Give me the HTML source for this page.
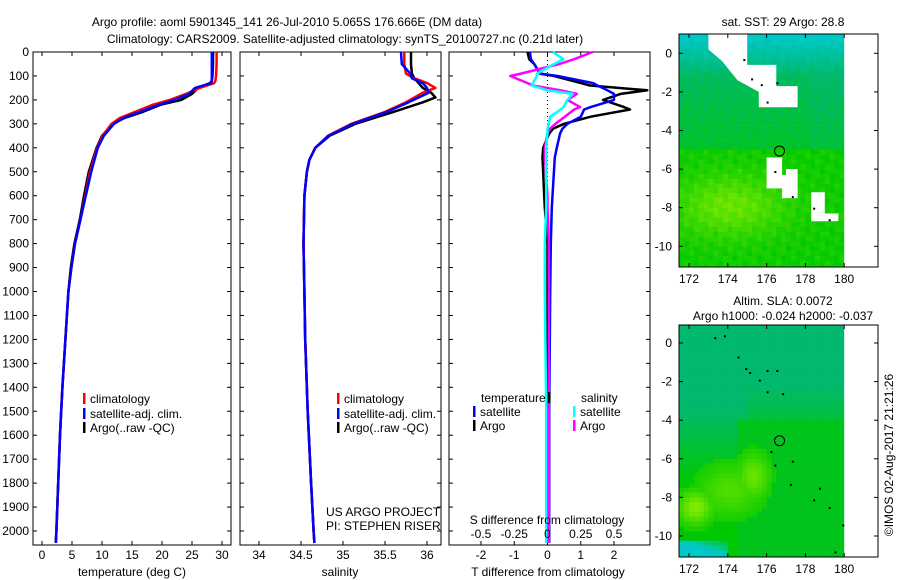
<!DOCTYPE html>
<html><head><meta charset="utf-8">
<style>
html,body{margin:0;padding:0;background:#fff;}
svg{display:block;font-family:"Liberation Sans",sans-serif;}
text{font-size:12px;fill:#000;}
</style></head>
<body>
<svg id="fig" width="900" height="580" viewBox="0 0 900 580" xmlns="http://www.w3.org/2000/svg">
<text x="287" y="26" text-anchor="middle">Argo profile: aoml 5901345_141 26-Jul-2010 5.065S 176.666E (DM data)</text>
<text x="345" y="43" text-anchor="middle">Climatology: CARS2009. Satellite-adjusted climatology: synTS_20100727.nc (0.21d later)</text>
<g id="p1"></g>
<g id="p2"></g>
<g id="p3"></g>
<g id="m1"></g>
<g id="m2"></g>
<text transform="translate(893,455) rotate(-90)" text-anchor="middle">©IMOS 02-Aug-2017 21:21:26</text>
</svg>
<script>
// ---------- data ----------
const tDepths = [0,50,100,120,130,150,175,200,220,250,275,300,350,400,500,600,700,800,900,1000,1200,1400,1600,1800,2000,2050];
const tClim   = [29.1,29.1,29.0,28.9,28.7,26.3,24.0,21.3,18.5,15.5,13.0,11.6,10.1,9.2,8.0,7.2,6.4,5.5,4.9,4.4,3.9,3.4,3.0,2.7,2.4,2.3];
const tSat    = [28.3,28.3,28.3,28.3,28.2,25.5,24.5,22.0,19.5,16.3,13.6,12.0,10.3,9.3,8.2,7.3,6.4,5.5,4.9,4.4,3.9,3.4,3.0,2.7,2.4,2.3];
const tArgo   = [28.5,28.5,28.4,28.3,28.0,26.0,25.0,23.2,19.8,16.8,13.8,11.8,10.0,9.1,7.8,7.0,6.3,5.4,4.8,4.4,3.9,3.4,3.0,2.7,2.4,2.3];
const sDepths = [0,50,90,110,130,150,170,190,210,250,300,350,400,450,500,600,800,1000,1200,1500,1800,2000,2050];
const sClim   = [35.73,35.73,35.75,35.85,36.0,36.1,35.95,35.85,35.75,35.5,35.1,34.82,34.67,34.6,34.57,34.54,34.53,34.54,34.55,34.58,34.62,34.65,34.66];
const sSat    = [35.69,35.70,35.80,35.82,35.95,36.0,36.02,35.9,35.78,35.52,35.12,34.83,34.67,34.6,34.57,34.54,34.53,34.54,34.55,34.58,34.62,34.65,34.66];
const sArgo   = [35.81,35.81,35.82,35.85,35.9,35.95,36.05,36.1,35.95,35.6,35.15,34.84,34.67,34.6,34.57,34.54,34.53,34.54,34.55,34.58,34.62,34.65,34.66];
const dDepths = [0,30,50,90,100,130,140,160,175,200,230,240,270,300,320,340,400,440,600,650,800,1000,1500,2050];
const dTSat   = [-0.53,-0.5,-0.4,-0.23,0.3,1.37,1.5,1.8,2.0,2.0,1.3,1.1,1.0,0.6,0.45,0.38,0.28,0.22,0.15,0.13,0.1,0.08,0.05,0.05];
const dTArgo  = [-0.6,-0.55,-0.4,-0.23,0.2,1.0,1.28,3.0,2.2,1.67,2.3,2.48,1.3,0.5,0.17,0.05,-0.13,-0.15,-0.1,-0.08,0,0,0,0];
const dSSat   = [0.04,0.12,0.05,-0.08,-0.08,-0.11,-0.12,0.0,0.19,0.15,0.12,0.1,0.02,0.01,0.0,0.0,-0.01,-0.01,-0.01,-0.01,-0.02,-0.02,-0.01,-0.01];
const dSArgo  = [0.34,0.2,0.09,-0.2,-0.28,-0.15,-0.11,0.1,0.22,0.15,0.245,0.2,0.13,0.06,0.02,0.0,-0.02,-0.02,0.0,0.0,0.01,0.01,0.01,0.01];
const depthTicks = [0,100,200,300,400,500,600,700,800,900,1000,1100,1200,1300,1400,1500,1600,1700,1800,1900,2000];
const tTicks = [0,5,10,15,20,25,30];
const sTicks = [34,34.5,35,35.5,36];
const dTTicks = [-2,-1,0,1,2];
const dSTicks = [-0.5,-0.25,0,0.25,0.5];
const dSTickLabels = ['-0.5','-0.25','0','0.25','0.5'];
const lonTicks = [172,174,176,178,180];
const latTicks = [0,-2,-4,-6,-8,-10];
const argoLon = 176.666, argoLat = -5.065;

const NS='http://www.w3.org/2000/svg';
function mk(parent,tag,attrs,txt){const e=document.createElementNS(NS,tag);for(const k in attrs)e.setAttribute(k,attrs[k]);if(txt!==undefined)e.textContent=txt;parent.appendChild(e);return e;}
const TOP=52, BOT=545;
const yD = d => TOP + d*0.2395;

function frame(g,x0,x1,labels){
  const r=mk(g,'rect',{x:x0,y:TOP,width:x1-x0,height:BOT-TOP,fill:'none',stroke:'#000','stroke-width':1});
  
  
  depthTicks.forEach(d=>{
    const y=yD(d);
    mk(g,'line',{x1:x0,x2:x0+4,y1:y,y2:y,stroke:'#000'});
    mk(g,'line',{x1:x1-4,x2:x1,y1:y,y2:y,stroke:'#000'});
    if(labels){const t=mk(g,'text',{x:x0-4,y:y+4,'text-anchor':'end'},String(d));
      
      }
  });
}
function xTicks(g,vals,labs,fx,y,top){
  vals.forEach((v,i)=>{const x=fx(v);
    mk(g,'line',{x1:x,x2:x,y1:BOT-4,y2:BOT,stroke:'#000'});
    if(top) mk(g,'line',{x1:x,x2:x,y1:TOP,y2:TOP+4,stroke:'#000'});
    const t=mk(g,'text',{x:x,y:y,'text-anchor':'middle'},labs[i]);
    
    });
}
function line(g,xs,ds,fx,color,name,w){
  const pts=xs.map((v,i)=>fx(v).toFixed(1)+','+yD(ds[i]).toFixed(1)).join(' ');
  const p=mk(g,'polyline',{points:pts,fill:'none',stroke:color,'stroke-width':w||2.5,'stroke-linejoin':'round'});
  
  
}
function legendEntry(g,x,y,color,label){
  mk(g,'rect',{x:x,y:y-10,width:2.5,height:11,fill:color});
  const t=mk(g,'text',{x:x+7,y:y},label);
  
  
}

// Panel 1: temperature
const p1=document.getElementById('p1');
const fT = t => 42 + t*6;
frame(p1,33,231,true);
xTicks(p1,tTicks,tTicks.map(String),fT,559,true);
mk(p1,'text',{x:132,y:576,'text-anchor':'middle'},'temperature (deg C)');
line(p1,tArgo,tDepths,fT,'#000','argo-temperature-line');
line(p1,tClim,tDepths,fT,'#f00','climatology-temperature-line');
line(p1,tSat,tDepths,fT,'#00f','satellite-temperature-line');
legendEntry(p1,83,403,'#f00','climatology');
legendEntry(p1,83,418,'#00f','satellite-adj. clim.');
legendEntry(p1,83,432,'#000','Argo(..raw -QC)');

// Panel 2: salinity
const p2=document.getElementById('p2');
const fS = s => 259 + (s-34)*84;
frame(p2,240,441,false);
xTicks(p2,sTicks,['34','34.5','35','35.5','36'],fS,559,true);
mk(p2,'text',{x:340,y:576,'text-anchor':'middle'},'salinity');
line(p2,sArgo,sDepths,fS,'#000','argo-salinity-line');
line(p2,sClim,sDepths,fS,'#f00','climatology-salinity-line');
line(p2,sSat,sDepths,fS,'#00f','satellite-salinity-line');
legendEntry(p2,337,403,'#f00','climatology');
legendEntry(p2,337,418,'#00f','satellite-adj. clim.');
legendEntry(p2,337,432,'#000','Argo(..raw -QC)');
mk(p2,'text',{x:326,y:516},'US ARGO PROJECT');
mk(p2,'text',{x:326,y:530},'PI: STEPHEN RISER');

// Panel 3: differences
const p3=document.getElementById('p3');
const fD = t => 547.5 + t*33.25;
const fDS = s => fD(s*4);
frame(p3,449,650,false);
xTicks(p3,dTTicks,dTTicks.map(String),fD,559,true);
mk(p3,'text',{x:548,y:576,'text-anchor':'middle'},'T difference from climatology');
mk(p3,'line',{x1:547.5,x2:547.5,y1:TOP,y2:265,stroke:'#000','stroke-dasharray':'1,3'});
line(p3,dTArgo,dDepths,fD,'#000','argo-temperature-diff-line');
line(p3,dTSat,dDepths,fD,'#00f','satellite-temperature-diff-line');
line(p3,dSArgo,dDepths,fDS,'#f0f','argo-salinity-diff-line');
line(p3,dSSat,dDepths,fDS,'#0ff','satellite-salinity-diff-line');
mk(p3,'text',{x:547,y:524,'text-anchor':'middle'},'S difference from climatology');
dSTicks.forEach((v,i)=>{mk(p3,'text',{x:fDS(v),y:538,'text-anchor':'middle'},dSTickLabels[i]);});
mk(p3,'text',{x:481,y:402},'temperature');
mk(p3,'rect',{x:548,y:392,width:2.5,height:11,fill:'#000'});
mk(p3,'text',{x:581,y:402},'salinity');
legendEntry(p3,473,416,'#00f','satellite');
legendEntry(p3,473,430,'#000','Argo');
legendEntry(p3,573,416,'#0ff','satellite');
legendEntry(p3,573,430,'#f0f','Argo');

// Maps
const fLon = l => 689 + (l-172)*19.4;
function drawMap(g,top,bot,lat0y,title1,title2,colorFn,whites,dots){
  const fLat = la => lat0y - la*19.3;
  const x0=679,x1=878;
  for(let lon=171.5; lon<180.0; lon+=0.25){
    for(let lat=1.0; lat>-11.2; lat-=0.25){
      const y=fLat(lat), x=fLon(lon);
      const yy=Math.max(y,top), yb=Math.min(fLat(lat-0.25),bot);
      if(yb<=yy) continue;
      mk(g,'rect',{x:x.toFixed(1),y:yy.toFixed(1),width:5.1,height:(yb-yy+0.3).toFixed(1),fill:colorFn(lon,lat)});
    }
  }
  whites.forEach(poly=>{mk(g,'polygon',{points:poly.map(p=>fLon(p[0]).toFixed(1)+','+fLat(p[1]).toFixed(1)).join(' '),fill:'#fff'});});
  mk(g,'rect',{x:fLon(180.0),y:top,width:x1-fLon(180.0),height:bot-top,fill:'#fff'});
  dots.forEach(p=>mk(g,'rect',{x:fLon(p[0]),y:fLat(p[1]),width:2,height:2,fill:'#000'}));
  const c=mk(g,'circle',{cx:fLon(argoLon),cy:fLat(argoLat),r:5,fill:'none',stroke:'#000','stroke-width':1});
  
  
  mk(g,'rect',{x:x0,y:top,width:x1-x0,height:bot-top,fill:'none',stroke:'#000'});
  lonTicks.forEach(l=>{const x=fLon(l);
    mk(g,'line',{x1:x,x2:x,y1:bot-4,y2:bot,stroke:'#000'});mk(g,'line',{x1:x,x2:x,y1:top,y2:top+4,stroke:'#000'});
    const t=mk(g,'text',{x:x,y:bot+16,'text-anchor':'middle'},String(l));
    
    });
  latTicks.forEach(l=>{const y=fLat(l);
    mk(g,'line',{x1:x0,x2:x0+4,y1:y,y2:y,stroke:'#000'});mk(g,'line',{x1:x1-4,x2:x1,y1:y,y2:y,stroke:'#000'});
    const t=mk(g,'text',{x:x0-7,y:y+4,'text-anchor':'end'},String(l));
    
    });
  if(title2){mk(g,'text',{x:783,y:top-20,'text-anchor':'middle'},title1);mk(g,'text',{x:783,y:top-5,'text-anchor':'middle'},title2);}
  else mk(g,'text',{x:783,y:top-8,'text-anchor':'middle'},title1);
}
function mixc(a,b,t){t=Math.max(0,Math.min(1,t));return 'rgb('+a.map((v,i)=>Math.round(v+(b[i]-v)*t)).join(',')+')';}
const CYAN=[0,200,200], TEAL=[0,185,110], GREEN=[0,200,0], LIME=[130,235,0];
function sstColor(lon,lat){
  const tex=0.15*Math.sin(lon*7.3+lat*3.1)*Math.cos(lat*5.7-lon*2.2);
  if(lat>-1.0) return mixc(TEAL,CYAN,(lat+1.0)/2+tex);
  if(lat>-5.0) return mixc(GREEN,TEAL,0.35+(lat+5)/8+tex+(lon>178?0.15:0));
  const lm=Math.exp(-((lat+7.8)**2)/2.5-((lon-174)**2)/8);
  return mixc(GREEN,LIME,lm*0.7+tex+0.1);
}
function slaColor(lon,lat){
  const b1=Math.exp(-((lat+8.4)**2)/0.8-((lon-172.2)**2)/0.8);
  const b2=Math.exp(-((lat+6.8)**2)/1.5-((lon-175.2)**2)/0.7);
  const b3=Math.exp(-((lat+7.5)**2)/2.0-((lon-174)**2)/3);
  let lime=Math.max(b1,b2*0.8,b3*0.6);
  if(lime>0.15) return mixc(GREEN,LIME,lime);
  if(lat<-10 && lon<174) return mixc(GREEN,CYAN,(-10-lat)+(174-lon)/3);
  if(lat>-4 || lon<174.5) return mixc(GREEN,TEAL,(lat+6)/4+(lon<175?0.3:0));
  return mixc(GREEN,TEAL,0.25);
}
const whitesSST=[
 [[173.0,1.0],[175.0,1.0],[175.0,-0.6],[176.5,-0.6],[176.5,-1.7],[177.6,-1.7],[177.6,-2.8],[175.6,-2.8],[175.6,-2.0],[174.5,-1.4],[173.7,-0.4],[173.0,0.2]],
 [[176.0,-5.4],[176.8,-5.4],[176.8,-6.3],[177.0,-6.3],[177.0,-6.0],[177.6,-6.0],[177.6,-7.5],[176.8,-7.5],[176.8,-7.0],[176.0,-7.0]],
 [[178.3,-7.2],[179.0,-7.2],[179.0,-8.3],[179.7,-8.3],[179.7,-8.7],[178.3,-8.7]]];
const dotsSST=[[174.8,-0.3],[175.2,-1.3],[175.7,-1.6],[176.5,-1.5],[176.0,-2.5],[176.4,-6.1],[177.3,-7.4],[178.4,-8.0],[179.2,-8.6]];
const dotsSLA=[[173.3,0.3],[173.8,0.4],[174.5,-0.7],[174.9,-1.3],[175.1,-1.5],[176.0,-1.4],[176.5,-1.4],[175.6,-1.9],[176.0,-2.5],[176.8,-2.6],[176.2,-5.6],[176.4,-6.3],[177.3,-6.1],[177.2,-7.3],[178.4,-8.1],[178.7,-7.5],[179.2,-8.5],[179.9,-9.4],[179.5,-10.8]];
drawMap(document.getElementById('m1'),34,267,53.3,'sat. SST: 29 Argo: 28.8',null,sstColor,whitesSST,dotsSST);
drawMap(document.getElementById('m2'),325,557,343,'Altim. SLA: 0.0072','Argo h1000: -0.024 h2000: -0.037',slaColor,[],dotsSLA);
</script>
</body></html>
